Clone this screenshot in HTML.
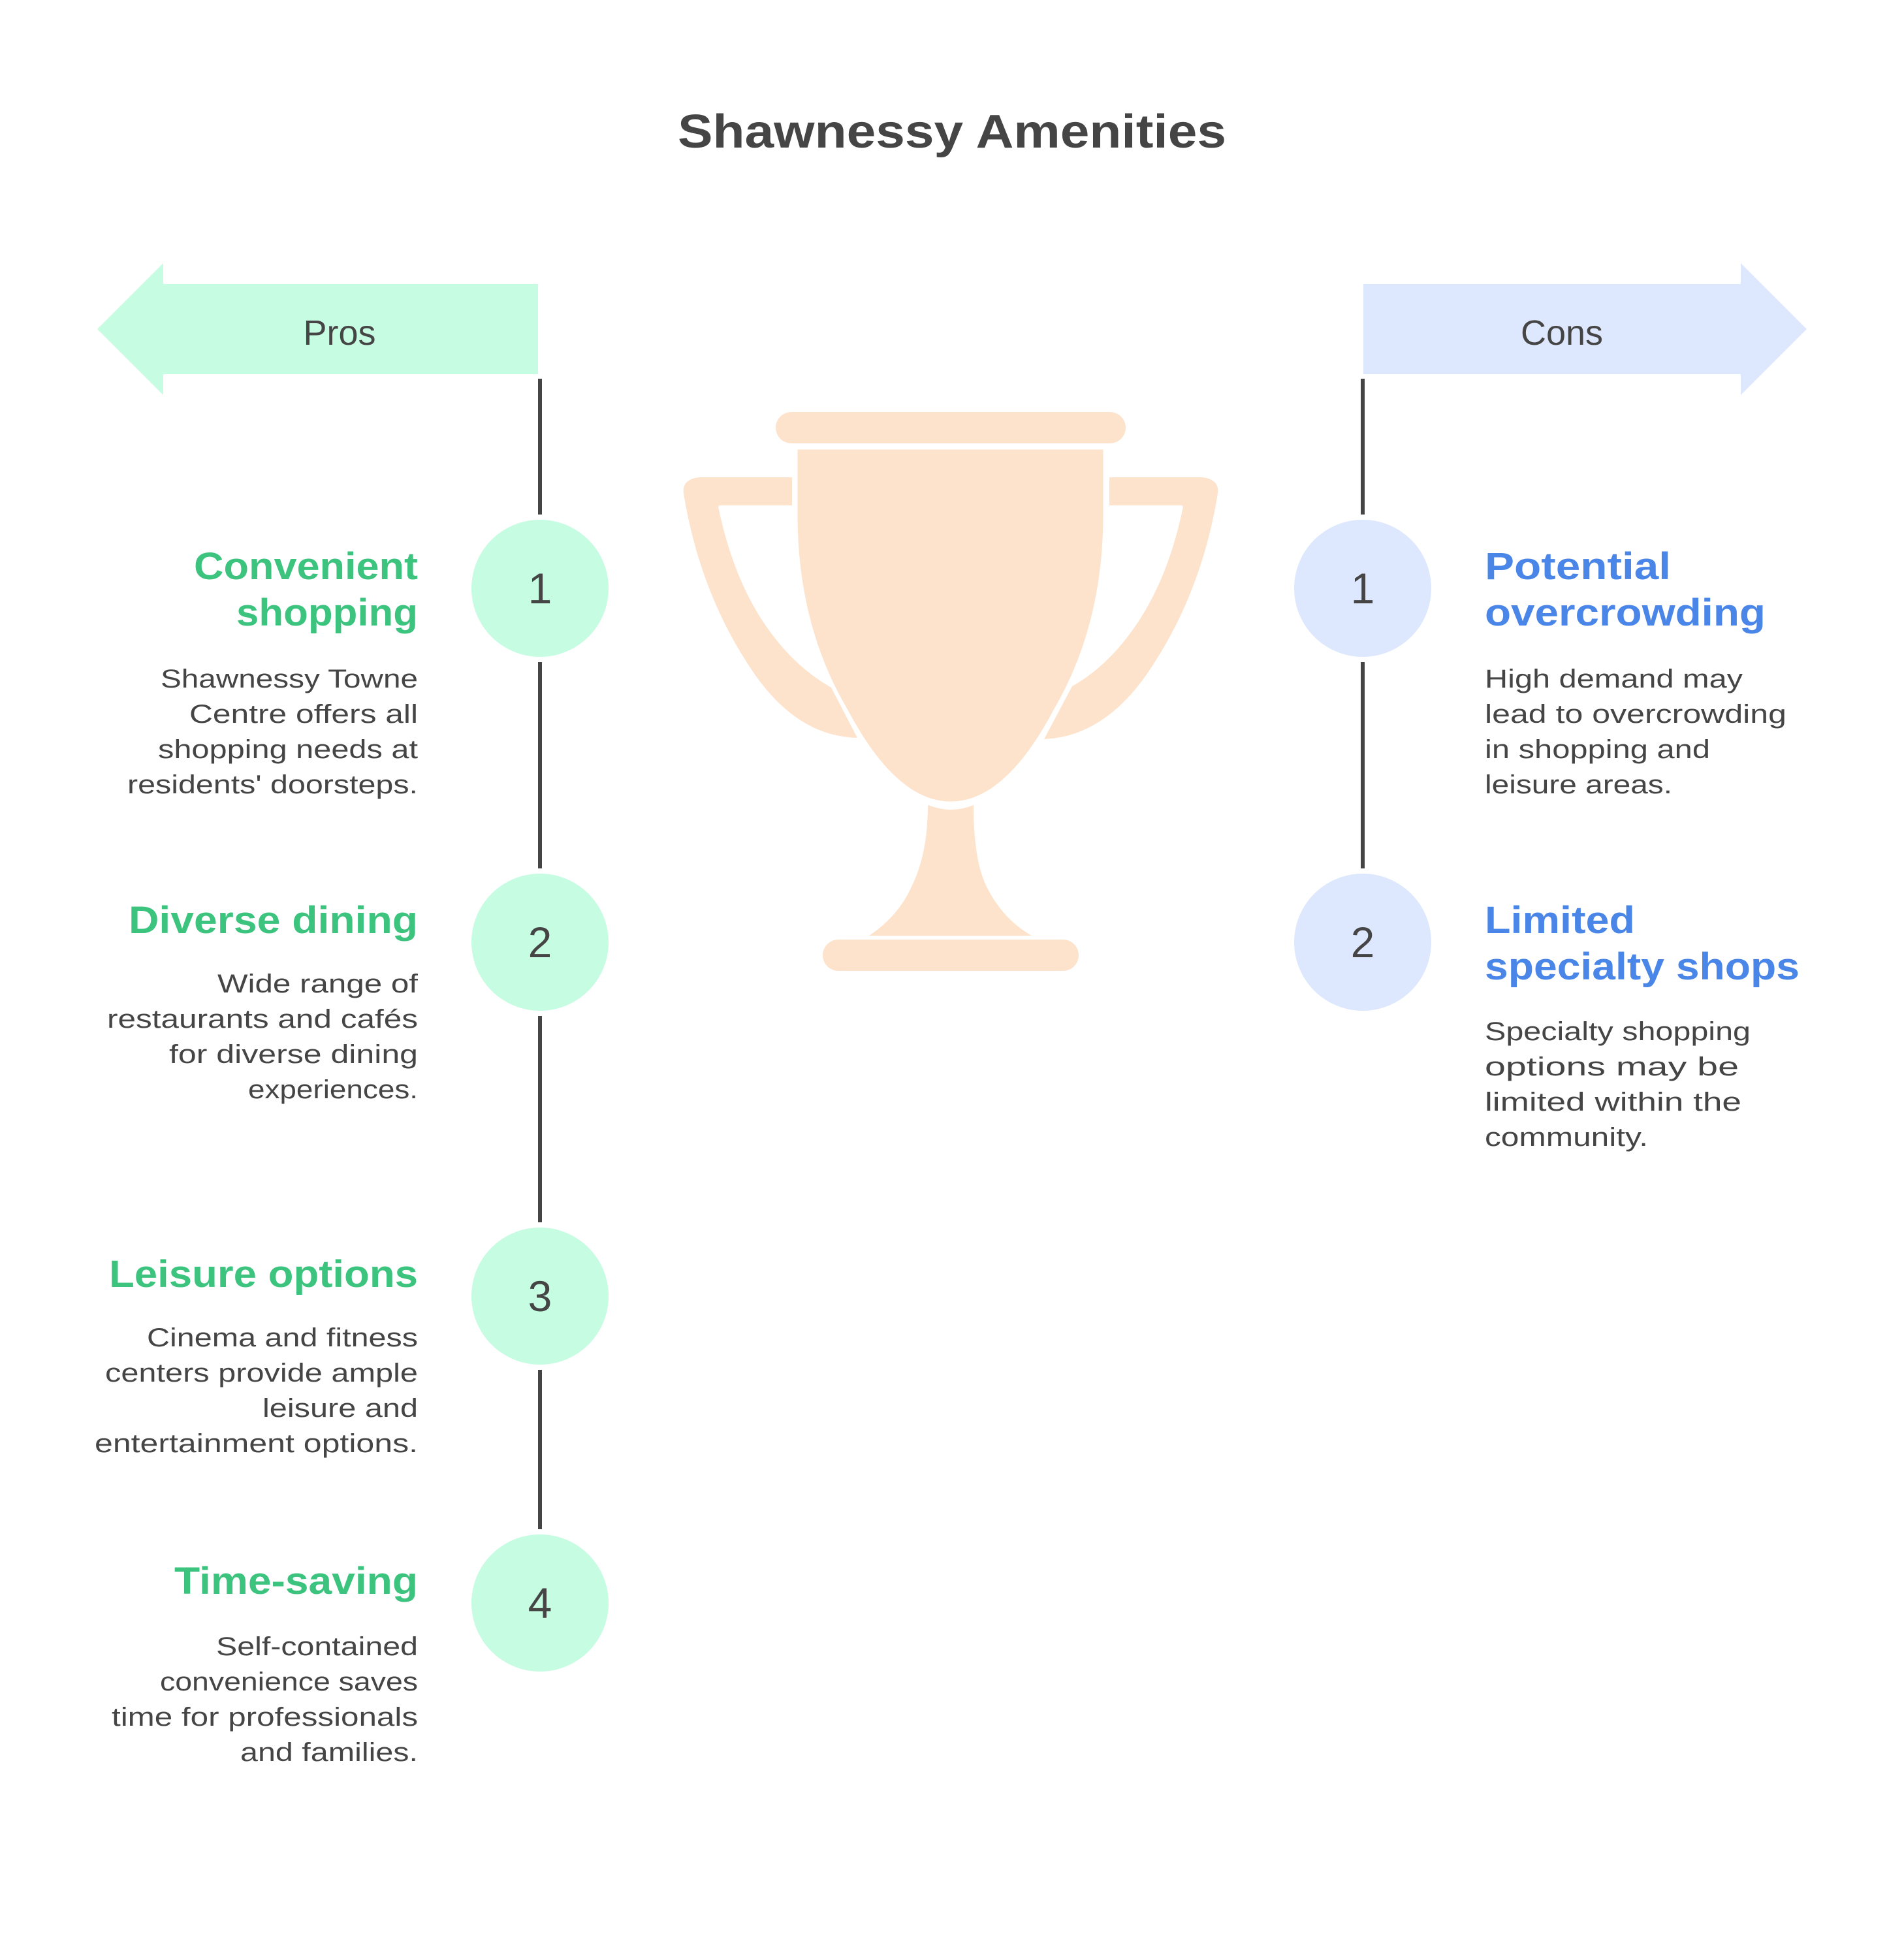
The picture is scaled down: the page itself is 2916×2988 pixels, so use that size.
<!DOCTYPE html>
<html><head><meta charset="utf-8"><style>
html,body{margin:0;padding:0;background:#fff;}
svg{display:block;}
text{font-family:"Liberation Sans",sans-serif;}
.h{font-weight:bold;font-size:58px;}
.d{font-size:40px;fill:#454545;}
.n{font-size:66px;fill:#454545;}
</style></head><body>
<svg width="2916" height="2988" viewBox="0 0 2916 2988" xmlns="http://www.w3.org/2000/svg">
<rect width="2916" height="2988" fill="#fff"/>
<text x="1458" y="226" text-anchor="middle" font-weight="bold" font-size="72" fill="#454545" textLength="840" lengthAdjust="spacingAndGlyphs">Shawnessy Amenities</text>

<!-- Pros arrow -->
<polygon points="149,504 250,403 250,435 824,435 824,573 250,573 250,605" fill="#c6fce2"/>
<text x="520" y="528" text-anchor="middle" font-size="54" fill="#454545">Pros</text>
<!-- Cons arrow -->
<polygon points="2088,435 2666,435 2666,403 2767,504 2666,605 2666,573 2088,573" fill="#dde8fe"/>
<text x="2392" y="528" text-anchor="middle" font-size="54" fill="#454545">Cons</text>

<!-- lines -->
<g stroke="#454545" stroke-width="6">
<line x1="827" y1="580" x2="827" y2="788"/>
<line x1="827" y1="1014" x2="827" y2="1330"/>
<line x1="827" y1="1556" x2="827" y2="1872"/>
<line x1="827" y1="2098" x2="827" y2="2342"/>
<line x1="2087" y1="580" x2="2087" y2="788"/>
<line x1="2087" y1="1014" x2="2087" y2="1330"/>
</g>
<g fill="#c6fce2">
<circle cx="827" cy="901" r="105"/><circle cx="827" cy="1443" r="105"/><circle cx="827" cy="1985" r="105"/><circle cx="827" cy="2455" r="105"/>
</g>
<g fill="#dde8fe"><circle cx="2087" cy="901" r="105"/><circle cx="2087" cy="1443" r="105"/></g>
<g class="n" text-anchor="middle">
<text x="827" y="924">1</text><text x="827" y="1466">2</text><text x="827" y="2008">3</text><text x="827" y="2478">4</text>
<text x="2087" y="924">1</text><text x="2087" y="1466">2</text>
</g>

<!-- Pros text -->
<g text-anchor="end" transform="translate(-2,-5)">
<text class="h" fill="#3cc47f" x="642" y="892" textLength="343" lengthAdjust="spacingAndGlyphs">Convenient</text>
<text class="h" fill="#3cc47f" x="642" y="963" textLength="278" lengthAdjust="spacingAndGlyphs">shopping</text>
<text class="d" x="642" y="1058" textLength="394" lengthAdjust="spacingAndGlyphs">Shawnessy Towne</text>
<text class="d" x="642" y="1112" textLength="350" lengthAdjust="spacingAndGlyphs">Centre offers all</text>
<text class="d" x="642" y="1166" textLength="398" lengthAdjust="spacingAndGlyphs">shopping needs at</text>
<text class="d" x="642" y="1220" textLength="445" lengthAdjust="spacingAndGlyphs">residents' doorsteps.</text>

<text class="h" fill="#3cc47f" x="642" y="1434" textLength="443" lengthAdjust="spacingAndGlyphs">Diverse dining</text>
<text class="d" x="642" y="1525" textLength="307" lengthAdjust="spacingAndGlyphs">Wide range of</text>
<text class="d" x="642" y="1579" textLength="476" lengthAdjust="spacingAndGlyphs">restaurants and cafés</text>
<text class="d" x="642" y="1633" textLength="381" lengthAdjust="spacingAndGlyphs">for diverse dining</text>
<text class="d" x="642" y="1687" textLength="260" lengthAdjust="spacingAndGlyphs">experiences.</text>

<text class="h" fill="#3cc47f" x="642" y="1976" textLength="473" lengthAdjust="spacingAndGlyphs">Leisure options</text>
<text class="d" x="642" y="2067" textLength="415" lengthAdjust="spacingAndGlyphs">Cinema and fitness</text>
<text class="d" x="642" y="2121" textLength="479" lengthAdjust="spacingAndGlyphs">centers provide ample</text>
<text class="d" x="642" y="2175" textLength="238" lengthAdjust="spacingAndGlyphs">leisure and</text>
<text class="d" x="642" y="2229" textLength="495" lengthAdjust="spacingAndGlyphs">entertainment options.</text>

<text class="h" fill="#3cc47f" x="642" y="2446" textLength="373" lengthAdjust="spacingAndGlyphs">Time-saving</text>
<text class="d" x="642" y="2540" textLength="309" lengthAdjust="spacingAndGlyphs">Self-contained</text>
<text class="d" x="642" y="2594" textLength="395" lengthAdjust="spacingAndGlyphs">convenience saves</text>
<text class="d" x="642" y="2648" textLength="469" lengthAdjust="spacingAndGlyphs">time for professionals</text>
<text class="d" x="642" y="2702" textLength="272" lengthAdjust="spacingAndGlyphs">and families.</text>
</g>

<!-- Cons text -->
<g transform="translate(-4,-5)">
<text class="h" fill="#4a86e8" x="2278" y="892" textLength="285" lengthAdjust="spacingAndGlyphs">Potential</text>
<text class="h" fill="#4a86e8" x="2278" y="963" textLength="430" lengthAdjust="spacingAndGlyphs">overcrowding</text>
<text class="d" x="2278" y="1058" textLength="395" lengthAdjust="spacingAndGlyphs">High demand may</text>
<text class="d" x="2278" y="1112" textLength="462" lengthAdjust="spacingAndGlyphs">lead to overcrowding</text>
<text class="d" x="2278" y="1166" textLength="345" lengthAdjust="spacingAndGlyphs">in shopping and</text>
<text class="d" x="2278" y="1220" textLength="287" lengthAdjust="spacingAndGlyphs">leisure areas.</text>

<text class="h" fill="#4a86e8" x="2278" y="1434" textLength="230" lengthAdjust="spacingAndGlyphs">Limited</text>
<text class="h" fill="#4a86e8" x="2278" y="1505" textLength="482" lengthAdjust="spacingAndGlyphs">specialty shops</text>
<text class="d" x="2278" y="1598" textLength="407" lengthAdjust="spacingAndGlyphs">Specialty shopping</text>
<text class="d" x="2278" y="1652" textLength="389" lengthAdjust="spacingAndGlyphs">options may be</text>
<text class="d" x="2278" y="1706" textLength="393" lengthAdjust="spacingAndGlyphs">limited within the</text>
<text class="d" x="2278" y="1760" textLength="250" lengthAdjust="spacingAndGlyphs">community.</text>
</g>

<!-- Trophy -->
<g fill="#fde3cc" transform="translate(-4,-2)">
<rect x="1192" y="633" width="536" height="48" rx="24"/>
<rect x="1264" y="1441" width="392" height="48" rx="24"/>
<path d="M1217,733 L1075,733 Q1048,736 1051,758 Q1075,905 1150,1020 Q1220,1130 1317,1132 L1277,1055 Q1215,1020 1170,950 Q1125,880 1104,778 L1106,776 L1217,776 Z"/>
<path d="M1703,733 L1845,733 Q1872,736 1869,758 Q1845,905 1770,1020 Q1700,1130 1603,1134 L1646,1053 Q1705,1020 1750,950 Q1795,880 1816,778 L1814,776 L1703,776 Z"/>
<path d="M1223,688 L1696,688 L1696,790 Q1696,960 1620,1090 Q1545,1232 1460,1232 Q1375,1232 1300,1090 Q1223,960 1223,790 Z" stroke="#fff" stroke-width="5"/>
<path d="M1425,1235 Q1445,1242 1460,1242 Q1478,1242 1495,1235 Q1495,1320 1515,1360 Q1540,1410 1584,1435 L1335,1435 Q1380,1405 1400,1360 Q1425,1310 1425,1235 Z"/>
</g>
</svg>
</body></html>
